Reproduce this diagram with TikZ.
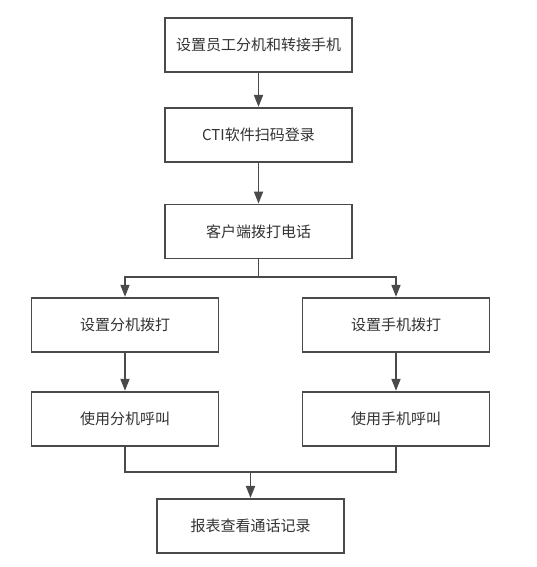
\documentclass[tikz,border=0pt]{standalone}
\usepackage{fontspec}
\setmainfont{Noto Sans CJK SC}
\usetikzlibrary{arrows.meta}
\definecolor{ln}{HTML}{4A4A4A}
\definecolor{tx}{HTML}{333333}
\begin{document}
\begin{tikzpicture}[x=1pt,y=-1pt,
  stepbox/.style={draw=ln,line width=1.8pt,fill=white,minimum width=187pt,minimum height=54pt,inner sep=0pt,text=tx,font=\fontsize{15}{17}\selectfont},
  conn/.style={draw=ln,line width=1.8pt},
  arr/.style={conn,-{Triangle[width=9pt,length=12pt]}}]
\useasboundingbox (0,0) rectangle (536,567);
\node[stepbox] (b1) at (258.5,44.7) {设置员工分机和转接手机};
\node[stepbox] (b2) at (258.5,134.8) {CTI软件扫码登录};
\node[stepbox] (b3) at (258.5,231.5) {客户端拨打电话};
\node[stepbox] (b4) at (125,324.7) {设置分机拨打};
\node[stepbox] (b5) at (396,324.7) {设置手机拨打};
\node[stepbox] (b6) at (125,418.7) {使用分机呼叫};
\node[stepbox] (b7) at (396,418.7) {使用手机呼叫};
\node[stepbox] (b8) at (250.5,525.8) {报表查看通话记录};
\coordinate (s) at (258.5,277);
\coordinate (m) at (250.5,471.7);
\draw[arr] (b1.south) -- (b2.north);
\draw[arr] (b2.south) -- (b3.north);
\draw[conn] (b3.south) -- (s);
\draw[arr] (s) -| (b4.north);
\draw[arr] (s) -| (b5.north);
\draw[arr] (b4.south) -- (b6.north);
\draw[arr] (b5.south) -- (b7.north);
\draw[conn] (b6.south) |- (m);
\draw[conn] (b7.south) |- (m);
\draw[arr] (m) -- (b8.north);
\end{tikzpicture}
\end{document}
